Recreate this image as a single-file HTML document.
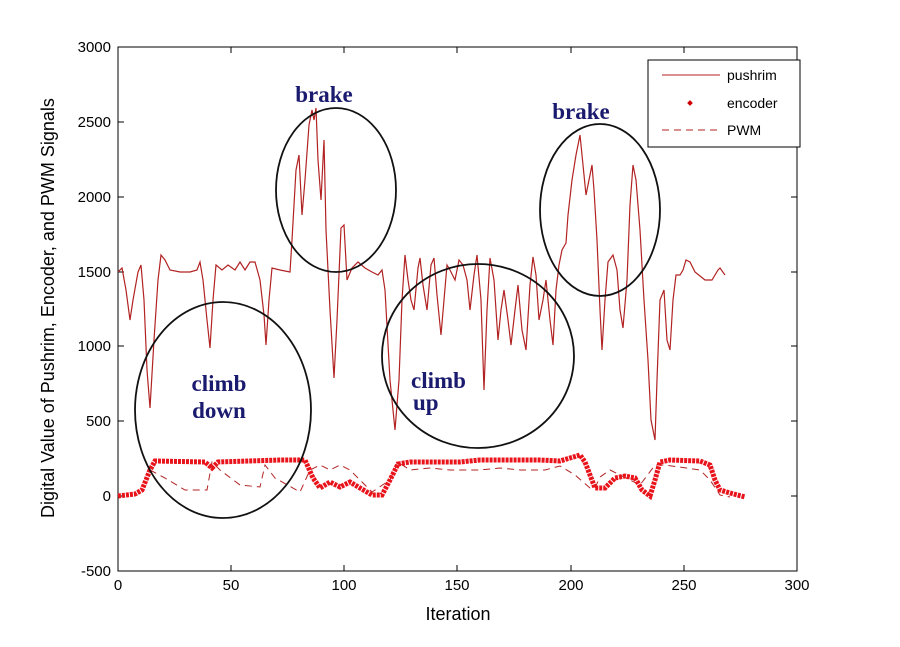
<!DOCTYPE html>
<html><head><meta charset="utf-8"><style>
body{margin:0;background:#fff}
svg text{font-family:"Liberation Sans",sans-serif}
</style></head><body>
<svg width="900" height="642" viewBox="0 0 900 642" xmlns="http://www.w3.org/2000/svg">
<rect width="900" height="642" fill="#fff"/>
<rect x="118" y="47" width="679" height="524" fill="none" stroke="#000" stroke-width="1"/>
<g stroke="#000" stroke-width="1">
<line x1="118" y1="571" x2="118" y2="565"/><line x1="231" y1="571" x2="231" y2="565"/><line x1="344" y1="571" x2="344" y2="565"/><line x1="457" y1="571" x2="457" y2="565"/><line x1="571" y1="571" x2="571" y2="565"/><line x1="684" y1="571" x2="684" y2="565"/>
<line x1="231" y1="47" x2="231" y2="53"/><line x1="344" y1="47" x2="344" y2="53"/><line x1="457" y1="47" x2="457" y2="53"/><line x1="571" y1="47" x2="571" y2="53"/><line x1="684" y1="47" x2="684" y2="53"/>
<line x1="118" y1="496" x2="124" y2="496"/><line x1="118" y1="421" x2="124" y2="421"/><line x1="118" y1="346" x2="124" y2="346"/><line x1="118" y1="272" x2="124" y2="272"/><line x1="118" y1="197" x2="124" y2="197"/><line x1="118" y1="122" x2="124" y2="122"/>
<line x1="797" y1="496" x2="791" y2="496"/><line x1="797" y1="421" x2="791" y2="421"/><line x1="797" y1="346" x2="791" y2="346"/><line x1="797" y1="272" x2="791" y2="272"/><line x1="797" y1="197" x2="791" y2="197"/><line x1="797" y1="122" x2="791" y2="122"/>
</g>
<g font-size="15" fill="#000" text-anchor="middle">
<text x="118" y="590">0</text><text x="231" y="590">50</text><text x="344" y="590">100</text><text x="457" y="590">150</text><text x="571" y="590">200</text><text x="684" y="590">250</text><text x="797" y="590">300</text>
</g>
<g font-size="15" fill="#000" text-anchor="end">
<text x="111" y="576">-500</text><text x="111" y="501">0</text><text x="111" y="426">500</text><text x="111" y="351">1000</text><text x="111" y="277">1500</text><text x="111" y="202">2000</text><text x="111" y="127">2500</text><text x="111" y="52">3000</text>
</g>
<text x="458" y="620" font-size="18" text-anchor="middle">Iteration</text>
<text transform="translate(54,308) rotate(-90)" font-size="18" text-anchor="middle">Digital Value of Pushrim, Encoder, and PWM Signals</text>
<polyline fill="none" stroke="#b22222" stroke-width="1.2" points="118,272 122,268 126,290 130,320 133,300 138,272 141,265 144,300 147,370 150,408 154,340 158,280 161,255 165,260 170,270 180,272 190,272 197,270 200,262 203,280 207,320 210,348 213,300 216,265 222,270 228,265 235,270 240,262 245,270 250,262 255,262 260,280 264,315 266,345 269,300 272,268 280,270 290,272 292,240 296,170 299,155 302,215 305,180 309,125 312,110 314,120 316,108 318,160 321,200 324,140 326,230 330,310 334,378 337,320 341,228 344,225 347,280 352,268 358,262 365,268 372,272 378,275 382,270 385,290 390,380 395,430 399,380 402,300 405,255 408,280 411,300 414,310 418,268 420,258 423,285 427,310 431,265 434,258 437,295 441,335 444,300 447,265 450,270 455,280 459,260 463,265 467,280 470,310 474,275 477,255 481,300 484,390 487,310 490,258 494,280 498,340 501,310 504,290 508,320 511,345 515,310 518,285 522,330 526,350 530,285 533,257 536,275 539,320 543,300 546,280 550,320 553,345 556,290 559,265 562,250 566,243 568,215 572,180 576,155 580,135 583,165 586,195 589,180 592,165 594,190 597,240 600,310 602,350 605,300 608,262 613,255 617,270 620,310 623,328 627,280 630,205 633,165 636,180 640,230 644,300 648,360 651,420 655,440 657,380 660,300 664,290 667,340 670,350 673,300 676,275 680,275 683,270 686,260 690,262 695,272 705,280 712,280 718,270 720,268 725,275"/>
<polyline fill="none" stroke="#b22222" stroke-width="1" stroke-dasharray="7,5" points="150,470 165,478 185,490 207,490 212,462 220,470 240,485 260,487 265,465 275,478 300,492 310,470 320,465 330,470 340,465 350,470 365,485 372,492 390,480 398,462 410,470 430,468 450,470 480,470 500,468 520,470 545,470 560,466 575,475 590,488 595,488 600,477 610,470 640,485 655,465 665,465 700,470 710,480 720,495 730,497"/>
<polyline fill="none" stroke="#e8131b" stroke-width="5" stroke-dasharray="3,1" points="118,496 135,494 142,490 150,470 155,461 205,462 212,468 218,462 280,460 305,460 313,478 320,488 330,482 340,487 350,482 360,488 372,495 382,495 390,480 398,464 410,462 460,462 480,460 500,460 540,460 560,461 580,455 585,462 590,475 595,488 605,488 615,478 625,476 635,478 642,490 650,496 655,480 660,462 670,460 700,461 710,465 715,480 720,490 730,493 745,497"/>
<g fill="none" stroke="#111" stroke-width="1.8">
<ellipse cx="223" cy="410" rx="88" ry="108"/>
<ellipse cx="336" cy="190" rx="60" ry="82"/>
<ellipse cx="478" cy="356" rx="96" ry="92"/>
<ellipse cx="600" cy="210" rx="60" ry="86"/>
</g>
<g font-size="23" fill="#1a1a6e" text-anchor="middle" font-weight="bold">
<text x="324" y="102" style="font-family:'Liberation Serif',serif">brake</text>
<text x="581" y="119" style="font-family:'Liberation Serif',serif">brake</text>
<text x="219" y="391" style="font-family:'Liberation Serif',serif">climb</text>
<text x="219" y="418" style="font-family:'Liberation Serif',serif">down</text>
<text x="411" y="388" style="font-family:'Liberation Serif',serif" text-anchor="start">climb</text>
<text x="413" y="410" style="font-family:'Liberation Serif',serif" text-anchor="start">up</text>
</g>
<rect x="648" y="60" width="152" height="87" fill="#fff" stroke="#000" stroke-width="1"/>
<line x1="662" y1="75" x2="720" y2="75" stroke="#b22222" stroke-width="1"/>
<rect x="688" y="101" width="4" height="4" fill="#c00" transform="rotate(45 690 103)"/>
<line x1="662" y1="130" x2="720" y2="130" stroke="#b22222" stroke-width="1" stroke-dasharray="7,5"/>
<g font-size="14" fill="#000">
<text x="727" y="80">pushrim</text><text x="727" y="108">encoder</text><text x="727" y="135">PWM</text>
</g>
</svg>
</body></html>
